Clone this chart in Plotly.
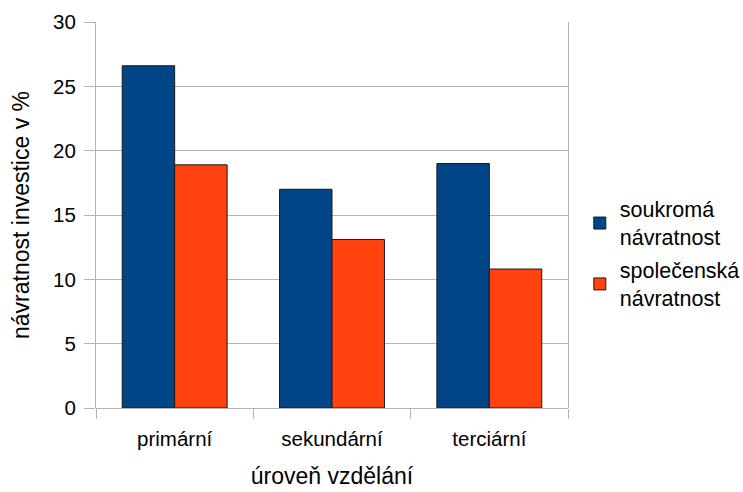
import plotly.graph_objects as go

categories = ["primární", "sekundární", "terciární"]
soukroma = [26.6, 17.0, 19.0]
spolecenska = [18.9, 13.1, 10.8]
series_names = ["soukromá<br>návratnost", "společenská<br>návratnost"]
y_ticks = [0, 5, 10, 15, 20, 25, 30]

FONT = "Liberation Sans, Arial, sans-serif"
GRID = "#b3b3b3"

fig = go.Figure()
fig.add_trace(go.Bar(x=categories, y=soukroma, name=series_names[0], legendgroup="g1",
                     marker=dict(color="#004586", line=dict(color="#1a1a1a", width=1))))
fig.add_trace(go.Bar(x=categories, y=spolecenska, name=series_names[1], legendgroup="g2",
                     marker=dict(color="#ff420e", line=dict(color="#1a1a1a", width=1))))

fig.update_layout(
    width=743, height=492,
    margin=dict(l=96, r=175, t=22, b=84, autoexpand=False),
    paper_bgcolor="white", plot_bgcolor="white",
    barmode="group", bargap=1/3, bargroupgap=0,
    font=dict(family=FONT, size=20, color="black"),
    legend=dict(x=1.025, y=0.40, xanchor="left", yanchor="middle",
                font=dict(size=21.5), traceorder="grouped", tracegroupgap=2,
                itemwidth=30),
    xaxis=dict(
        title=dict(text="úroveň vzdělání", font=dict(size=23), standoff=19),
        tickson="boundaries", ticks="outside", ticklen=10, tickcolor=GRID,
        showgrid=False, showline=False, tickfont=dict(size=20.5),
        ticklabelstandoff=16, automargin=False,
    ),
    yaxis=dict(
        title=dict(text="návratnost investice v %", font=dict(size=23), standoff=17),
        range=[0, 30], tickvals=y_ticks, ticks="outside", ticklen=11, tickcolor=GRID,
        showgrid=True, gridcolor=GRID, gridwidth=1,
        showline=True, linecolor=GRID, linewidth=1, mirror=True,
        zeroline=True, zerolinecolor=GRID, zerolinewidth=1,
        tickfont=dict(size=20.5), ticklabelstandoff=4, automargin=False,
    ),
)

fig.write_html("out.html", config={"displayModeBar": False},
               post_script="document.body.style.margin='0';document.body.style.overflow='hidden';")
